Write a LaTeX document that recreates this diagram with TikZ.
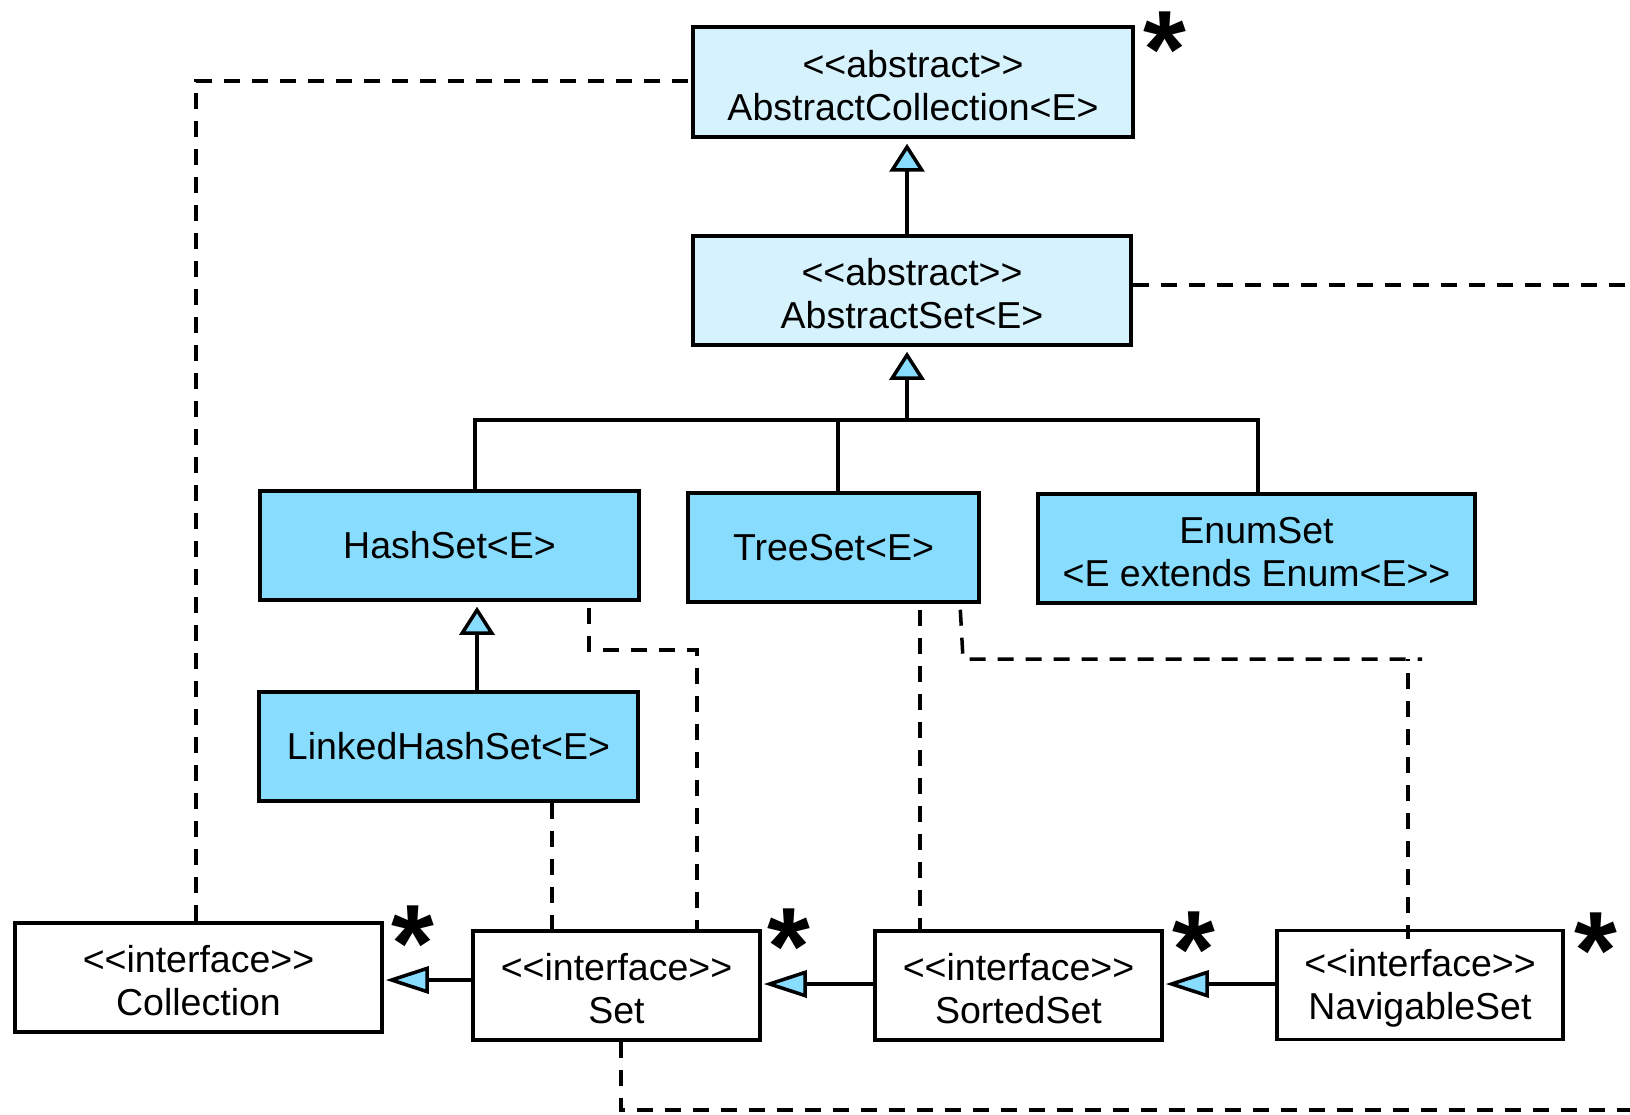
\documentclass[tikz,border=0pt]{standalone}
\usepackage{fontspec}
\setmainfont{Liberation Sans}
\usetikzlibrary{arrows.meta,calc}
\definecolor{absfill}{RGB}{214,242,253}
\definecolor{concfill}{RGB}{136,221,254}
% stereotype brackets kept as two separate characters
\newcommand\openst{<\kern0pt<}
\newcommand\closest{>\kern0pt>}

\begin{document}
\begin{tikzpicture}[x=1pt,y=-1pt,
  font=\fontsize{37.5}{43}\selectfont,
  cls/.style={draw, line width=3.5pt, align=center, inner sep=0pt, minimum height=109pt},
  twoline/.style={text height=77pt},
  abs/.style={cls, twoline, fill=absfill},
  conc/.style={cls, fill=concfill},
  iface/.style={cls, twoline, fill=white},
  solidline/.style={line width=3.5pt},
  dep/.style={line width=3.5pt, dash pattern=on 16pt off 12pt},
  genv/.style={line width=3.5pt, shorten >=5pt,
    -{Triangle[length=28pt,width=35pt,fill=concfill]}},
  genh/.style={line width=3.5pt, shorten >=2pt,
    -{Triangle[length=43pt,width=27pt,fill=concfill]}},
  mult/.style={font=\fontsize{110}{110}\selectfont\bfseries, inner sep=0pt, anchor=base}
]
\useasboundingbox (0,0) rectangle (1630,1115);

% classes
\node[abs, minimum width=440pt, minimum height=110pt] (AC) at (913,82)
  {\openst abstract\closest\\AbstractCollection<E>};
\node[abs, minimum width=438pt] (AS) at (912,290.5)
  {\openst abstract\closest\\AbstractSet<E>};
\node[conc, minimum width=379pt] (HS) at (449.5,545.5) {HashSet<E>};
\node[conc, minimum width=291pt] (TS) at (833.5,547.5) {TreeSet<E>};
\node[conc, twoline, minimum width=437pt] (ES) at (1256.5,548.5)
  {EnumSet\\<E extends Enum<E\closest};
\node[conc, minimum width=379pt] (LHS) at (448.5,746.5) {LinkedHashSet<E>};

% interfaces
\node[iface, minimum width=367pt] (CO) at (198.5,977.5) {\openst interface\closest\\Collection};
\node[iface, minimum width=287pt] (SE) at (616.5,985.5) {\openst interface\closest\\Set};
\node[iface, minimum width=287pt] (SS) at (1018.5,985.5) {\openst interface\closest\\SortedSet};
\node[iface, minimum width=286pt] (NS) at (1420,985) {\openst interface\closest\\NavigableSet};

% multiplicity marks
\node[mult] (mAC) at (1165,88) {*};
\node[mult] (mCO) at (413,981) {*};
\node[mult] (mSE) at (789,984) {*};
\node[mult] (mSS) at (1194,987) {*};
\node[mult] (mNS) at (1596,988) {*};

% inheritance tree
\coordinate (busL) at (475,420);
\coordinate (busM) at (838,420);
\coordinate (busT) at (907,420);
\coordinate (busR) at (1258,420);
\coordinate (lhx) at (477,700);
\draw[genv] (AS.north -| busT) -- (AC.south -| busT);
\draw[genv] (busT) -- (AS.south -| busT);
\draw[solidline] (HS.north -| busL) -- (busL) -- (busR) -- (ES.north -| busR);
\draw[solidline] (busM) -- (TS.north -| busM);
\draw[genv] (LHS.north -| lhx) -- (HS.south -| lhx);

% interface extension
\coordinate (r1) at (0,980);
\coordinate (r2) at (0,984);
\draw[genh] (SE.west |- r1) -- (CO.east |- r1);
\draw[genh] (SS.west |- r2) -- (SE.east |- r2);
\draw[genh] (NS.west |- r2) -- (SS.east |- r2);

% realizations
\coordinate (c1) at (196,81);
\draw[dep] (CO.north -| c1) -- (c1) -- (AC.west |- c1);
\coordinate (c2) at (1630,285);
\draw[dep] (AS.east |- c2) -- (c2);
\coordinate (h1) at (589,650);
\coordinate (h2) at (697,650);
\draw[dep, shorten <=6pt] (HS.south -| h1) -- (h1) -- (h2) -- (SE.north -| h2);
\coordinate (l1) at (552,700);
\draw[dep] (LHS.south -| l1) -- (SE.north -| l1);
\coordinate (t1) at (920,700);
\draw[dep, shorten <=6pt] (TS.south -| t1) -- (SS.north -| t1);
\coordinate (t2) at (963,659);
\coordinate (t3) at (1422,659);
\coordinate (t4) at (1408,659);
\draw[dep, shorten <=6pt] ($(TS.south -| t2)+(-3,0)$) -- (t2) -- (t3);
\draw[dep, dash phase=14pt] (t4) -- ($(NS.north -| t4)+(0,10)$);
\coordinate (s1) at (621,1110);
\coordinate (s2) at (1630,1110);
\draw[dep] (SE.south -| s1) -- (s1) -- (s2);
\end{tikzpicture}
\end{document}
